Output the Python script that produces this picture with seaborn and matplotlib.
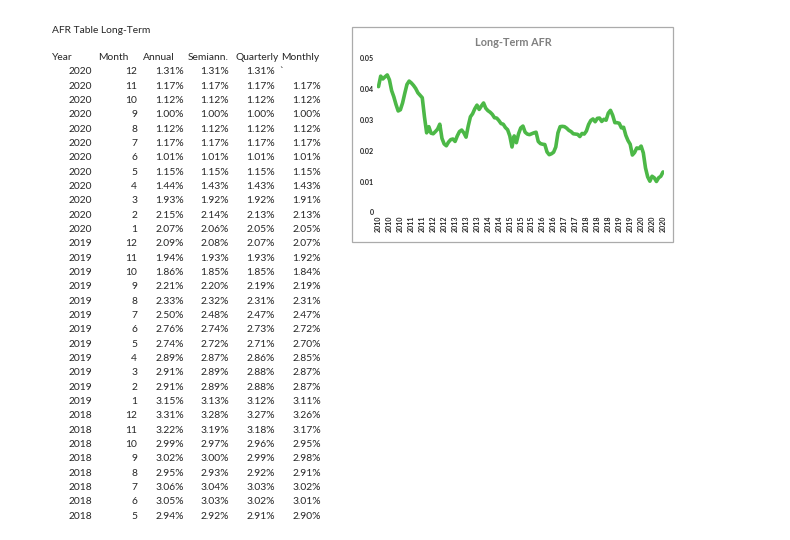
import matplotlib
matplotlib.use('Agg')
import matplotlib.pyplot as plt
import seaborn as sns
import numpy as np
import pandas as pd
from matplotlib.patches import Rectangle

# Long-term AFR : table of the last months + monthly chart since 2010

# --- table data (newest first, in %)
years_tbl = [2020] * 12 + [2019] * 12 + [2018] * 8
months_tbl = [12, 11, 10, 9, 8, 7, 6, 5, 4, 3, 2, 1,
              12, 11, 10, 9, 8, 7, 6, 5, 4, 3, 2, 1,
              12, 11, 10, 9, 8, 7, 6, 5]
annual = [1.31, 1.17, 1.12, 1.00, 1.12, 1.17, 1.01, 1.15, 1.44, 1.93, 2.15, 2.07,
          2.09, 1.94, 1.86, 2.21, 2.33, 2.50, 2.76, 2.74, 2.89, 2.91, 2.91, 3.15,
          3.31, 3.22, 2.99, 3.02, 2.95, 3.06, 3.05, 2.94]
semiann = [1.31, 1.17, 1.12, 1.00, 1.12, 1.17, 1.01, 1.15, 1.43, 1.92, 2.14, 2.06,
           2.08, 1.93, 1.85, 2.20, 2.32, 2.48, 2.74, 2.72, 2.87, 2.89, 2.89, 3.13,
           3.28, 3.19, 2.97, 3.00, 2.93, 3.04, 3.03, 2.92]
quarterly = [1.31, 1.17, 1.12, 1.00, 1.12, 1.17, 1.01, 1.15, 1.43, 1.92, 2.13, 2.05,
             2.07, 1.93, 1.85, 2.19, 2.31, 2.47, 2.73, 2.71, 2.86, 2.88, 2.88, 3.12,
             3.27, 3.18, 2.96, 2.99, 2.92, 3.03, 3.02, 2.91]
monthly = [None, 1.17, 1.12, 1.00, 1.12, 1.17, 1.01, 1.15, 1.43, 1.91, 2.13, 2.05,
           2.07, 1.92, 1.84, 2.19, 2.31, 2.47, 2.72, 2.70, 2.85, 2.87, 2.87, 3.11,
           3.26, 3.17, 2.95, 2.98, 2.91, 3.02, 3.01, 2.90]
stray_mark = '`'   # what sits in the empty Monthly cell of 2020/12

# --- older part of the chart (Feb 2010 -> Apr 2018, in %)
history = [4.08, 4.42, 4.33, 4.40, 4.46, 4.30, 3.95, 3.75, 3.50, 3.29,
           3.33, 3.55, 3.86, 4.15, 4.26, 4.20, 4.12, 4.02, 3.88, 3.80,
           3.72, 3.10, 2.58, 2.78, 2.57, 2.55, 2.62, 2.70, 2.86, 2.40,
           2.22, 2.16, 2.28, 2.36, 2.38, 2.30, 2.48, 2.62, 2.67, 2.58,
           2.44, 2.80, 3.10, 3.20, 3.36, 3.48, 3.34, 3.45, 3.55, 3.38,
           3.30, 3.25, 3.18, 3.07, 3.06, 2.98, 2.88, 2.86, 2.75, 2.68,
           2.48, 2.12, 2.48, 2.26, 2.55, 2.74, 2.80, 2.60, 2.54, 2.52,
           2.55, 2.58, 2.60, 2.30, 2.23, 2.21, 2.20, 1.96, 1.87, 1.90,
           1.95, 2.12, 2.58, 2.78, 2.79, 2.78, 2.73, 2.66, 2.62, 2.55,
           2.54, 2.53, 2.46, 2.56, 2.54, 2.64, 2.85, 2.98, 3.03]
start_month = '2010-02-01'

rates = np.array(history + annual[::-1]) / 100
dates = pd.date_range(start_month, periods=len(rates), freq='MS')
n = len(rates)

sns.set_style('white')
plt.rcParams['font.family'] = ['Lato', 'DejaVu Sans']

W, H = 790, 540
fig = plt.figure(figsize=(W / 100, H / 100), dpi=100)


def px(x, y):
    return x / W, 1 - y / H


# ---------- table
fs = 7.4
fig.text(*px(52, 31), 'AFR Table Long-Term', ha='left', va='center', fontsize=fs)
headers = ['Year', 'Month', 'Annual', 'Semiann.', 'Quarterly', 'Monthly']
head_x = [52, 98, 143, 188, 236, 281]
for h, x in zip(headers, head_x):
    fig.text(*px(x, 58), h, ha='left', va='center', fontsize=fs)

right_x = [92.5, 137, 184, 229, 275, 321]
for k in range(len(years_tbl)):
    y = 72 + 14.33 * k
    cells = [str(years_tbl[k]), str(months_tbl[k]), f'{annual[k]:.2f}%',
             f'{semiann[k]:.2f}%', f'{quarterly[k]:.2f}%']
    for c, x in zip(cells, right_x):
        fig.text(*px(x, y), c, ha='right', va='center', fontsize=fs)
    if monthly[k] is None:
        fig.text(*px(279, y), stray_mark, ha='left', va='center', fontsize=fs)
    else:
        fig.text(*px(right_x[5], y), f'{monthly[k]:.2f}%', ha='right',
                 va='center', fontsize=fs)

# ---------- chart box
fig.patches.append(Rectangle(px(351.5, 241.5), 321.5 / W, 214 / H,
                             transform=fig.transFigure, fill=False,
                             edgecolor='#ababab', lw=0.9))
fig.text(*px(513, 43), 'Long-Term AFR', ha='center', va='center',
         fontsize=7.8, fontweight='bold', color='#808080')

ax = fig.add_axes([377.4 / W, 1 - 212.3 / H, (664.1 - 377.4) / W, 154 / H])
sns.lineplot(x=np.arange(n), y=rates, ax=ax, color='#4cb847', linewidth=2.6,
             solid_joinstyle='round')
ax.set_xlim(-0.5, n - 0.5)
ax.set_ylim(0, 0.05)
ticks = np.arange(0, n, 5)
ax.set_xticks(ticks)
ax.set_xticklabels([str(d.year) for d in dates[ticks]], rotation=90,
                   fontsize=5.1, fontweight='bold', color='#262626')
yt = [0, 0.01, 0.02, 0.03, 0.04, 0.05]
ax.set_yticks(yt)
ax.set_yticklabels([f'{v:g}' for v in yt], fontsize=5.1, fontweight='bold',
                   color='#262626')
ax.tick_params(length=0, pad=2.2)
for s in ax.spines.values():
    s.set_visible(False)
ax.set_xlabel('')
ax.set_ylabel('')
ax.patch.set_alpha(0)

fig.savefig('out.png', dpi=100)
